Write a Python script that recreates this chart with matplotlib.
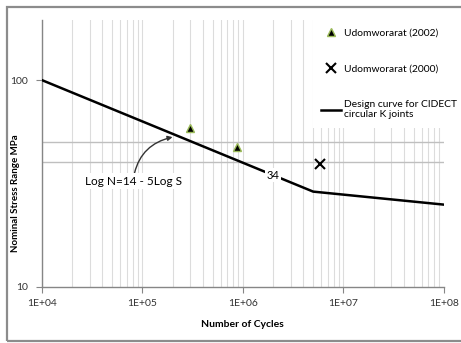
"""S-N chart: design curve for circular K joints with test data."""
import numpy as np
import matplotlib.pyplot as plt
from matplotlib.patches import Rectangle
from matplotlib.ticker import FixedLocator, NullLocator, NullFormatter

plt.rcParams.update({"font.family": ["Lato", "DejaVu Sans"], "font.size": 8})

# design curve (Log N = 14 - 5 Log S, then a flatter tail)
curve_n = [1e4, 2e6, 5e6, 1e8]
curve_s = [100, 34.7, 28.9, 25.0]

# test data
udom2002_n = [3.0e5, 8.8e5]
udom2002_s = [58.5, 47.3]
udom2000_n = [5.9e6]
udom2000_s = [39.5]

ref_levels = [50, 40]
x_ticks = [1e4, 1e5, 1e6, 1e7, 1e8]
x_labels = ["1E+04", "1E+05", "1E+06", "1E+07", "1E+08"]
y_ticks = [10, 100]
y_labels = ["10", "100"]

GRID = "#dcdcdc"
AXC = "#868686"

fig = plt.figure(figsize=(4.61, 3.43), dpi=100)
ax = fig.add_axes([41.7 / 461, 1 - 287 / 343, (444 - 41.7) / 461, (287 - 20) / 343])
ax.set_xscale("log")
ax.set_yscale("log")
ax.set_xlim(1e4, 1e8)
ax.set_ylim(10, 195)

# vertical grid, every minor decade step
for dec in range(4, 8):
    for k in range(1, 10):
        ax.axvline(k * 10 ** dec, color=GRID, lw=0.8, zorder=0)
for lv in ref_levels:
    ax.axhline(lv, color="#bfbfbf", lw=1.0, zorder=1)

ax.plot(curve_n, curve_s, color="black", lw=1.8, zorder=3, label="Design curve for CIDECT\ncircular K joints")
ax.plot(udom2002_n, udom2002_s, ls="none", marker="^", ms=6, mfc="black", mec="#9bbb59", mew=1.0,
        zorder=4, label="Udomworarat (2002)")
ax.plot(udom2000_n, udom2000_s, ls="none", marker="x", ms=7, mec="black", mew=1.5,
        zorder=4, label="Udomworarat (2000)")

ax.text(curve_n[1], curve_s[1], "34", ha="center", va="center", fontsize=8, zorder=5,
        bbox=dict(facecolor="white", edgecolor="none", pad=1))

ax.annotate("Log N=14 - 5Log S", xy=(2.0e5, 53), xytext=(8.1e4, 32.5),
            ha="center", va="center", fontsize=8.5, zorder=5,
            bbox=dict(facecolor="white", edgecolor="none", pad=2),
            arrowprops=dict(arrowstyle="-|>", color="#333333", lw=1.0, mutation_scale=7,
                            connectionstyle="arc3,rad=-0.35", shrinkA=0, shrinkB=0))

ax.xaxis.set_major_locator(FixedLocator(x_ticks))
ax.set_xticklabels(x_labels)
ax.xaxis.set_minor_locator(NullLocator())
ax.yaxis.set_major_locator(FixedLocator(y_ticks))
ax.set_yticklabels(y_labels)
ax.yaxis.set_minor_locator(NullLocator())
ax.yaxis.set_minor_formatter(NullFormatter())
ax.tick_params(axis="both", length=4, width=0.8, color=AXC, labelsize=7.5, labelcolor="#333333")
ax.tick_params(axis="x", pad=5)
ax.tick_params(axis="y", pad=6)

for side in ["top", "right"]:
    ax.spines[side].set_visible(False)
for side in ["left", "bottom"]:
    ax.spines[side].set_color(AXC)
    ax.spines[side].set_linewidth(1.0)

ax.set_xlabel("Number of Cycles", fontsize=7.5, fontweight="bold", labelpad=8)
ax.set_ylabel("Nominal Stress Range MPa", fontsize=7, fontweight="bold")
ax.yaxis.set_label_coords(-0.055, 0.35)

handles, labels = ax.get_legend_handles_labels()
order = [1, 2, 0]
leg = ax.legend([handles[i] for i in order], [labels[i] for i in order],
                loc="upper left", bbox_to_anchor=(0.675, 1.0), frameon=True, fancybox=False,
                edgecolor="none", facecolor="white", framealpha=1, fontsize=7.4,
                labelspacing=2.6, handlelength=1.9, handletextpad=0.3, borderpad=0.8,
                borderaxespad=0)
leg.set_zorder(6)

# outer chart border
fig.patches.append(Rectangle((7 / 461, 2 / 343), 1.2, 334 / 343, transform=fig.transFigure,
                             fill=False, edgecolor="#8c8c8c", lw=1.6))

fig.savefig("out.png", dpi=100)
